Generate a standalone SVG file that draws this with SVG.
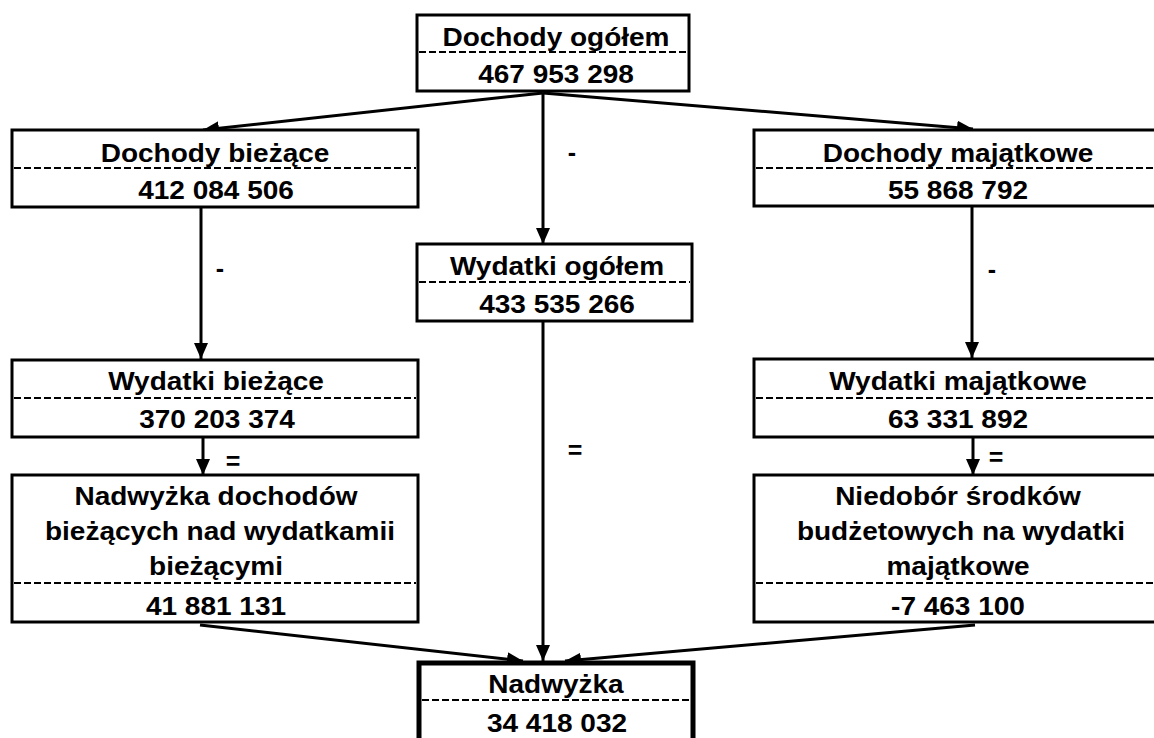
<svg xmlns="http://www.w3.org/2000/svg" width="1154" height="738" viewBox="0 0 1154 738">
<style>
.box{fill:#fff;stroke:#000;stroke-width:3}
.thick{fill:#fff;stroke:#000;stroke-width:5}
.dash{stroke:#000;stroke-width:2;stroke-dasharray:7 3;fill:none}
.t{font-family:"Liberation Sans",Arial,sans-serif;font-weight:bold;font-size:25px;text-anchor:middle;fill:#000}
.c{stroke:#000;stroke-width:3;fill:none;marker-end:url(#ah)}
</style>
<defs>
<marker id="ah" markerUnits="userSpaceOnUse" markerWidth="17" markerHeight="15" refX="16" refY="7" orient="auto" viewBox="0 0 17 15">
<path d="M0,0 L16,7 L0,14 z" fill="#000"/>
</marker>
</defs>
<rect width="1154" height="738" fill="#fff"/>

<g id="connectors">
<path class="c" d="M543,93 L203,130"/>
<path class="c" d="M543,93 L973,129"/>
<path class="c" d="M543,93 L543,244"/>
<path class="c" d="M201,207 L201,359"/>
<path class="c" d="M203,437 L203,475"/>
<path class="c" d="M972,207 L972,358"/>
<path class="c" d="M973,437 L973,475"/>
<path class="c" d="M543,321 L543,661"/>
<path class="c" d="M200,625 L523,661"/>
<path class="c" d="M975,625 L565,661"/>
<text class="t" x="220" y="277">-</text>
<text class="t" x="572" y="161">-</text>
<text class="t" x="992" y="278">-</text>
<text class="t" x="233" y="470">=</text>
<text class="t" x="575" y="459">=</text>
<text class="t" x="996" y="466">=</text>
</g>

<g id="dochody-ogolem">
<rect class="box" x="417" y="15" width="272" height="76"/>
<line class="dash" x1="419" y1="52" x2="687" y2="52"/>
<text class="t" transform="translate(556,46) scale(1.12,1)">Dochody ogółem</text>
<text class="t" transform="translate(556,83) scale(1.12,1)">467 953 298</text>
</g>

<g id="dochody-biezace">
<rect class="box" x="12" y="130" width="406" height="77"/>
<line class="dash" x1="14" y1="168" x2="416" y2="168"/>
<text class="t" transform="translate(215,162) scale(1.12,1)">Dochody bieżące</text>
<text class="t" transform="translate(216,199) scale(1.12,1)">412 084 506</text>
</g>

<g id="dochody-majatkowe">
<rect class="box" x="754" y="130" width="408" height="76"/>
<line class="dash" x1="756" y1="168" x2="1160" y2="168"/>
<text class="t" transform="translate(958,162) scale(1.12,1)">Dochody majątkowe</text>
<text class="t" transform="translate(958,199) scale(1.12,1)">55 868 792</text>
</g>

<g id="wydatki-ogolem">
<rect class="box" x="417" y="244" width="275" height="77"/>
<line class="dash" x1="419" y1="282" x2="690" y2="282"/>
<text class="t" transform="translate(557,275) scale(1.12,1)">Wydatki ogółem</text>
<text class="t" transform="translate(557,313) scale(1.12,1)">433 535 266</text>
</g>

<g id="wydatki-biezace">
<rect class="box" x="12" y="360" width="406" height="77"/>
<line class="dash" x1="14" y1="398" x2="416" y2="398"/>
<text class="t" transform="translate(216,390) scale(1.12,1)">Wydatki bieżące</text>
<text class="t" transform="translate(217,428) scale(1.12,1)">370 203 374</text>
</g>

<g id="wydatki-majatkowe">
<rect class="box" x="754" y="359" width="408" height="78"/>
<line class="dash" x1="756" y1="398" x2="1160" y2="398"/>
<text class="t" transform="translate(958,390) scale(1.12,1)">Wydatki majątkowe</text>
<text class="t" transform="translate(958,428) scale(1.12,1)">63 331 892</text>
</g>

<g id="nadwyzka-biezaca">
<rect class="box" x="12" y="475" width="406" height="147"/>
<line class="dash" x1="14" y1="583" x2="416" y2="583"/>
<text class="t" transform="translate(216,505) scale(1.12,1)">Nadwyżka dochodów</text>
<text class="t" transform="translate(220,540) scale(1.12,1)">bieżących nad wydatkamii</text>
<text class="t" transform="translate(216,575) scale(1.12,1)">bieżącymi</text>
<text class="t" transform="translate(216,615) scale(1.12,1)">41 881 131</text>
</g>

<g id="niedobor-majatkowy">
<rect class="box" x="754" y="475" width="408" height="147"/>
<line class="dash" x1="756" y1="583" x2="1160" y2="583"/>
<text class="t" transform="translate(958,505) scale(1.12,1)">Niedobór środków</text>
<text class="t" transform="translate(961,540) scale(1.12,1)">budżetowych na wydatki</text>
<text class="t" transform="translate(958,575) scale(1.12,1)">majątkowe</text>
<text class="t" transform="translate(958,615) scale(1.12,1)">-7 463 100</text>
</g>

<g id="nadwyzka">
<rect class="thick" x="419" y="663" width="274" height="95"/>
<line class="dash" x1="422" y1="700" x2="690" y2="700"/>
<text class="t" transform="translate(556,693) scale(1.12,1)">Nadwyżka</text>
<text class="t" transform="translate(557,732) scale(1.12,1)">34 418 032</text>
</g>
</svg>
